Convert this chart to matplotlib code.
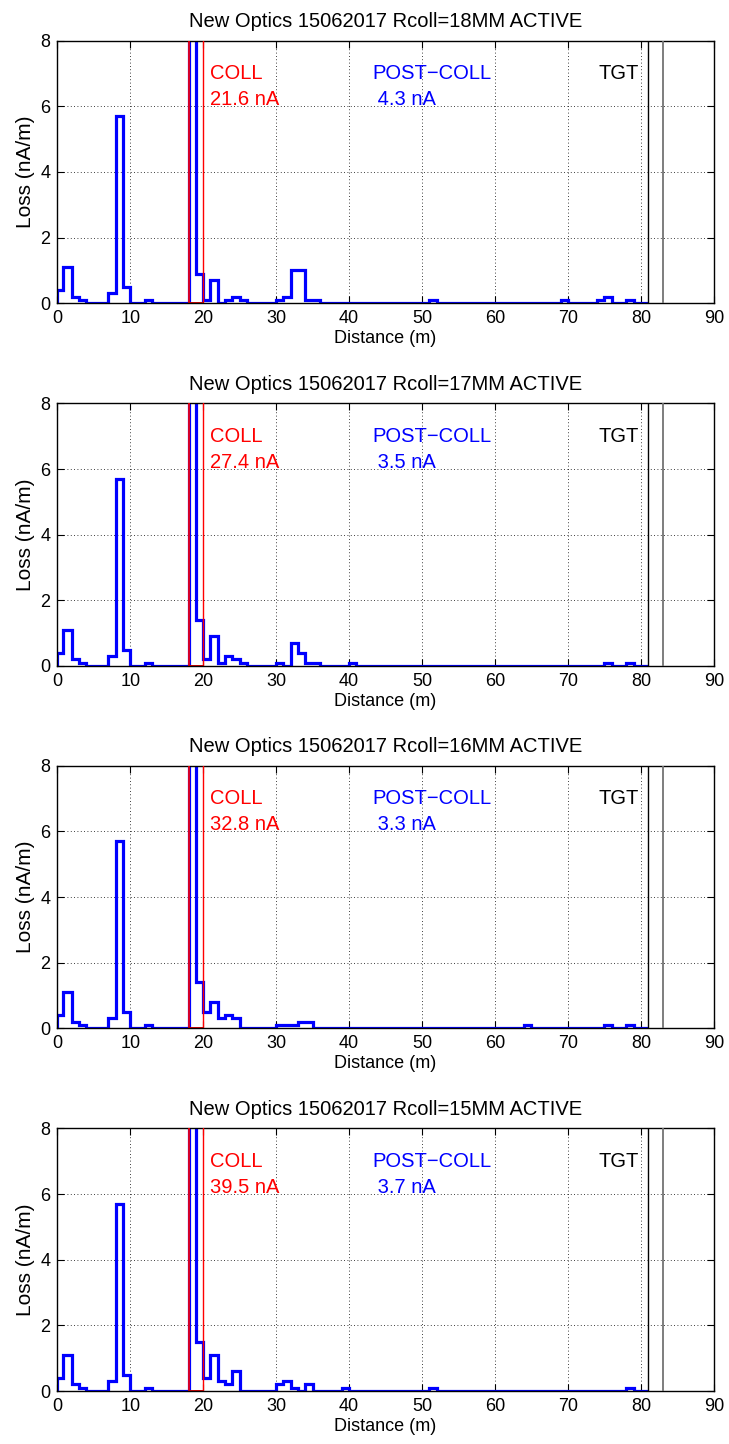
import matplotlib
matplotlib.use("Agg")
import numpy as np
import matplotlib.pyplot as plt

plt.rcParams['font.family'] = ['Liberation Sans', 'DejaVu Sans']

# bin edges along the beam line (m)
edges = np.r_[0, 0.85, np.arange(2, 82)]

def hist(pairs):
    v = np.zeros(len(edges) - 1)
    for i, val in pairs.items():
        v[i] = val
    return v

common = {0: 0.4, 1: 1.1, 2: 0.2, 3: 0.1, 7: 0.3, 8: 5.7, 9: 0.5, 12: 0.1, 18: 20.0}

loss_18 = hist({**common, 19: 0.9, 20: 0.1, 21: 0.7, 23: 0.1, 24: 0.2, 25: 0.1,
                30: 0.1, 31: 0.2, 32: 1.0, 33: 1.0, 34: 0.1, 35: 0.1,
                51: 0.1, 69: 0.1, 74: 0.1, 75: 0.2, 78: 0.1})
loss_17 = hist({**common, 19: 1.4, 20: 0.2, 21: 0.9, 22: 0.1, 23: 0.3, 24: 0.2, 25: 0.1,
                30: 0.1, 32: 0.7, 33: 0.4, 34: 0.1, 35: 0.1,
                40: 0.1, 75: 0.1, 78: 0.1})
loss_16 = hist({**common, 19: 1.4, 20: 0.5, 21: 0.8, 22: 0.3, 23: 0.4, 24: 0.3,
                30: 0.1, 31: 0.1, 32: 0.1, 33: 0.2, 34: 0.2,
                64: 0.1, 75: 0.1, 78: 0.1})
loss_15 = hist({**common, 19: 1.5, 20: 0.4, 21: 1.1, 22: 0.3, 23: 0.2, 24: 0.6,
                30: 0.2, 31: 0.3, 32: 0.1, 34: 0.2,
                39: 0.1, 51: 0.1, 78: 0.1})

titles = ['New Optics 15062017 Rcoll=18MM ACTIVE',
          'New Optics 15062017 Rcoll=17MM ACTIVE',
          'New Optics 15062017 Rcoll=16MM ACTIVE',
          'New Optics 15062017 Rcoll=15MM ACTIVE']
coll_na = ['21.6 nA', '27.4 nA', '32.8 nA', '39.5 nA']
post_na = [' 4.3 nA', ' 3.5 nA', ' 3.3 nA', ' 3.7 nA']
losses = [loss_18, loss_17, loss_16, loss_15]

coll_x = (18, 20)
tgt_x = (81, 83)

fig = plt.figure(figsize=(7.29, 14.44), dpi=100)
bottoms = [0.790, 0.5388, 0.2879, 0.0367]
fs = 14.5

for k in range(4):
    ax = fig.add_axes([0.0786, bottoms[k], 0.9005, 0.1818])
    ax.stairs(losses[k], edges, color='#0000ff', lw=2.3, zorder=2)
    ax.axvline(coll_x[0], color='red', lw=1.2, zorder=3)
    ax.axvline(coll_x[1], color='red', lw=1.0, zorder=3)
    ax.plot(coll_x, [0, 0], color='#b00000', lw=1.4, zorder=3)
    ax.axvline(tgt_x[0], color='black', lw=1.0, zorder=3)
    ax.axvline(tgt_x[1], color='0.45', lw=1.3, zorder=3)

    ax.set_xlim(0, 90)
    ax.set_ylim(0, 8)
    ax.set_xticks(np.arange(0, 91, 10))
    ax.set_yticks(np.arange(0, 9, 2))
    ax.grid(True, linestyle=(0, (1, 3)), color='black', lw=0.6)
    ax.tick_params(direction='in', top=True, right=True, length=5, pad=5,
                   labelsize=13)
    for s in ax.spines.values():
        s.set_linewidth(1.0)

    ax.set_title(titles[k], fontsize=fs, pad=10)
    ax.set_xlabel('Distance (m)', fontsize=13, labelpad=2)
    ax.set_ylabel('Loss (nA/m)', fontsize=15, labelpad=4)

    ax.text(21.0, 7.0, 'COLL', color='red', fontsize=fs, va='center')
    ax.text(21.0, 6.2, coll_na[k], color='red', fontsize=fs, va='center')
    ax.text(43.2, 7.0, 'POST\u2212COLL', color='blue', fontsize=fs, va='center')
    ax.text(43.2, 6.2, post_na[k], color='blue', fontsize=fs, va='center')
    ax.text(74.2, 7.0, 'TGT', color='black', fontsize=fs, va='center')

plt.savefig('out.png', dpi=100)
